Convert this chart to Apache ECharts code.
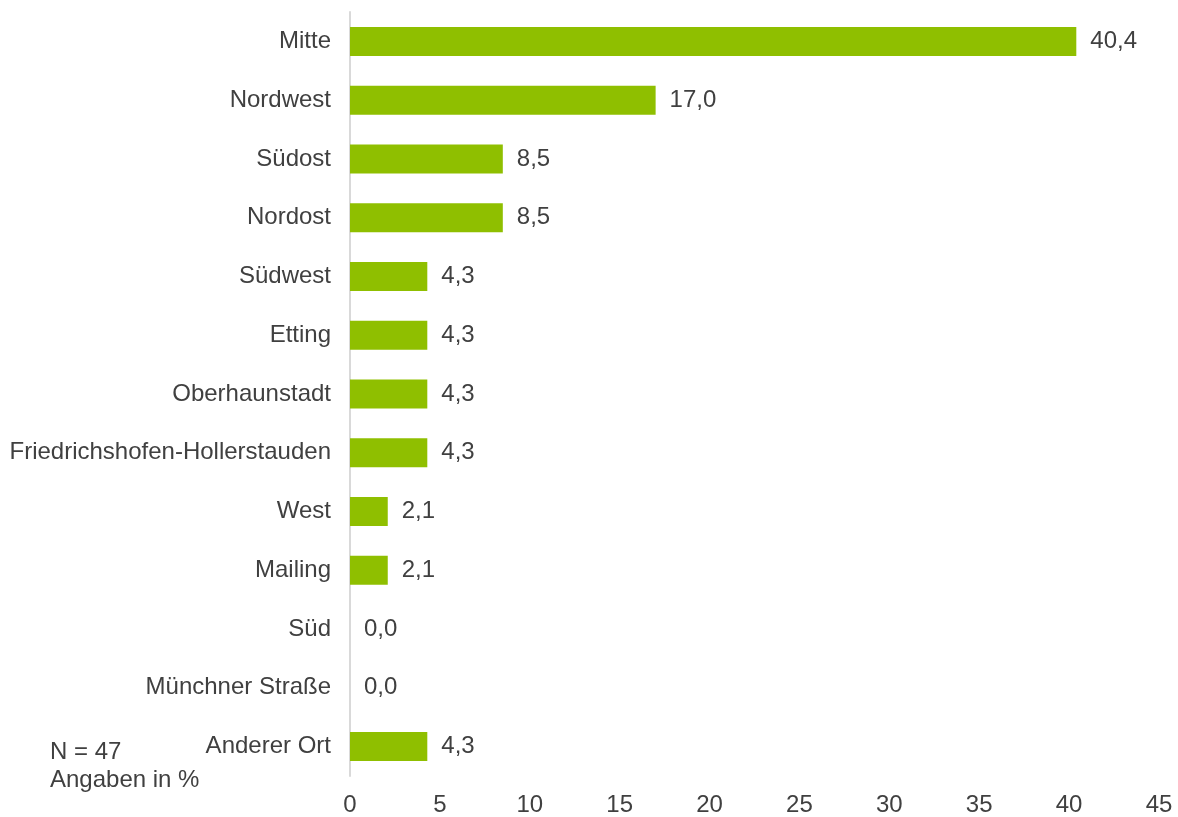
<!DOCTYPE html>
<html>
<head>
<meta charset="utf-8">
<script src="https://cdn.jsdelivr.net/npm/echarts@6/dist/echarts.min.js"></script>
<style>
  html, body { margin: 0; padding: 0; background: #ffffff; }
  #chart { width: 1178px; height: 817px; }
</style>
</head>
<body>
<div id="chart"></div>
<script>
// Stadtteile (top to bottom) and their share in percent
const categories = [
  'Mitte', 'Nordwest', 'Südost', 'Nordost', 'Südwest', 'Etting',
  'Oberhaunstadt', 'Friedrichshofen-Hollerstauden', 'West', 'Mailing',
  'Süd', 'Münchner Straße', 'Anderer Ort'
];
const values = [40.4, 17.0, 8.5, 8.5, 4.3, 4.3, 4.3, 4.3, 2.1, 2.1, 0.0, 0.0, 4.3];
const xTicks = { min: 0, max: 45, interval: 5 };
const noteLines = ['N = 47', 'Angaben in %'];

const textColor = '#404040';
const fontFamily = "'Liberation Sans', Arial, sans-serif";
const fontSize = 24;

const chart = echarts.init(document.getElementById('chart'), null, { renderer: 'canvas' });
chart.setOption({
  animation: false,
  grid: { left: 350, top: 12, width: 809, height: 767, containLabel: false },
  xAxis: {
    type: 'value',
    min: xTicks.min,
    max: xTicks.max,
    interval: xTicks.interval,
    axisLine: { show: false },
    axisTick: { show: false },
    splitLine: { show: false },
    axisLabel: { color: textColor, fontSize, fontFamily, margin: 17 }
  },
  yAxis: {
    type: 'category',
    data: categories,
    inverse: true,
    axisLine: { show: true, lineStyle: { color: '#d9d9d9', width: 2 } },
    axisTick: { show: false },
    axisLabel: { color: textColor, fontSize, fontFamily, margin: 19, padding: [3, 0, 0, 0] }
  },
  series: [{
    type: 'bar',
    data: values,
    barWidth: 29,
    itemStyle: { color: '#8fbf00' },
    label: {
      show: true,
      position: 'right',
      distance: 14,
      color: textColor,
      fontSize,
      fontFamily,
      padding: [3, 0, 0, 0],
      formatter: p => p.value.toFixed(1).replace('.', ',')
    }
  }],
  graphic: [{
    type: 'text',
    left: 50,
    top: 738,
    style: {
      text: noteLines.join('\n'),
      fill: textColor,
      font: fontSize + "px 'Liberation Sans', Arial, sans-serif",
      lineHeight: 28
    }
  }]
});
</script>
</body>
</html>
